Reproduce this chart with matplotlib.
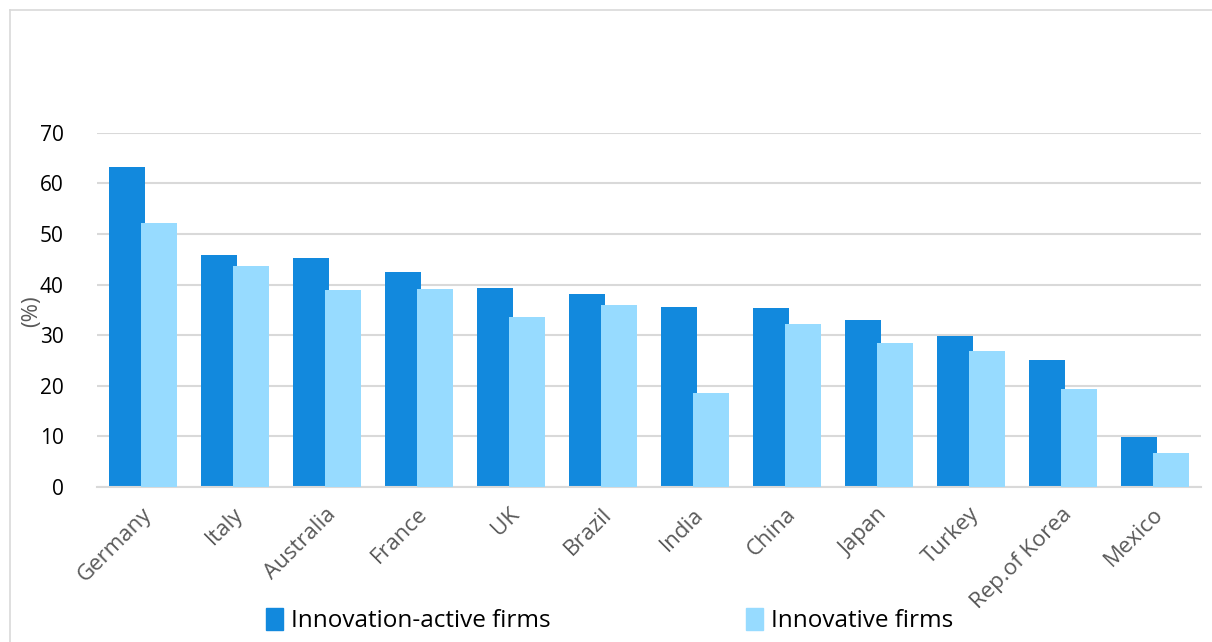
import numpy as np
import matplotlib.pyplot as plt
from matplotlib.patches import Patch
from matplotlib.lines import Line2D
from matplotlib import transforms

countries = ["Germany", "Italy", "Australia", "France", "UK", "Brazil",
             "India", "China", "Japan", "Turkey", "Rep.of Korea", "Mexico"]
innovation_active = [63.3, 45.8, 45.3, 42.6, 39.3, 38.2, 35.6, 35.3, 33.0, 29.8, 25.2, 9.8]
innovative = [52.1, 43.6, 39.0, 39.1, 33.6, 35.9, 18.5, 32.2, 28.4, 26.9, 19.4, 6.7]

dark = "#1289DD"
light = "#97DBFF"

plt.rcParams['font.family'] = ['Open Sans', 'DejaVu Sans']

fig = plt.figure(figsize=(12.12, 6.42), dpi=100)
ax = fig.add_axes([0.080, 0.2414, 0.911, 0.5516])

x = np.arange(len(countries))
w = 0.385
ax.bar(x - 0.175, innovation_active, width=w, color=dark, zorder=2)
ax.bar(x + 0.175, innovative, width=w, color=light, zorder=3)

ax.set_xlim(-0.5, len(countries) - 0.5)
ax.set_ylim(0, 70)
ax.set_yticks(range(0, 71, 10))
ax.yaxis.grid(True, color="#d9d9d9", linewidth=1.5, zorder=0)
ax.set_axisbelow(True)

for s in ["top", "right", "left"]:
    ax.spines[s].set_visible(False)
ax.spines["bottom"].set_color("#d9d9d9")
ax.spines["bottom"].set_linewidth(1.5)

ax.tick_params(axis="y", length=0, labelsize=15, pad=24, labelcolor="black")
ax.tick_params(axis="x", length=0, labelsize=16, labelcolor="#595959")
ax.set_xticks(x)
ax.set_xticklabels(countries, rotation=45, ha="right", rotation_mode="anchor")
offset = transforms.ScaledTranslation(-2 / 100, -12 / 100, fig.dpi_scale_trans)
for lbl in ax.get_xticklabels():
    lbl.set_transform(lbl.get_transform() + offset)

fig.text(0.026, 0.515, "(%)", rotation=90, color="#595959", fontsize=16,
         ha="center", va="center")

handles = [Patch(color=dark), Patch(color=light)]
fig.legend(handles, ["Innovation-active firms", "Innovative firms"],
           loc="center", bbox_to_anchor=(0.503, 0.033), ncol=2, frameon=False,
           fontsize=17.5, handlelength=0.7, handleheight=1.0, handletextpad=0.35,
           columnspacing=8.0)

# outer frame
fig.add_artist(Line2D([10 / 1212, 10 / 1212], [0, 1 - 10 / 642],
                      transform=fig.transFigure, color="#d9d9d9", linewidth=1.2))
fig.add_artist(Line2D([10 / 1212, 1], [1 - 10 / 642, 1 - 10 / 642],
                      transform=fig.transFigure, color="#d9d9d9", linewidth=1.2))

fig.savefig("out.png", dpi=100)
